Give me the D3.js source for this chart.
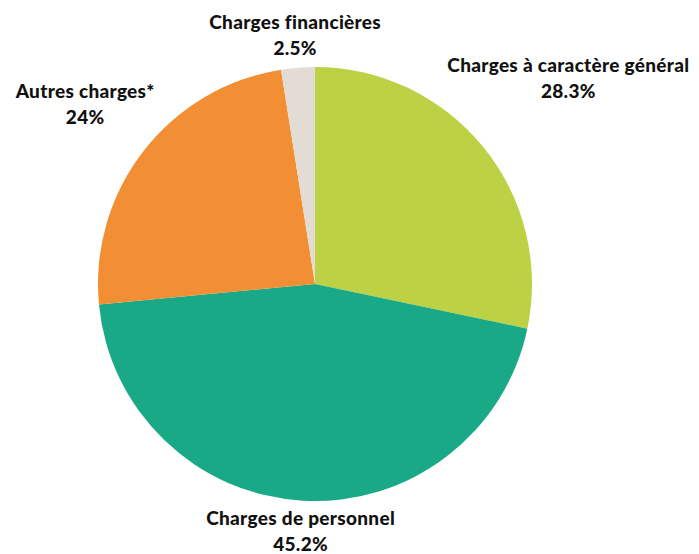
<!DOCTYPE html>
<html>
<head>
<meta charset="utf-8">
<script src="https://cdn.jsdelivr.net/npm/d3@7"></script>
<style>
  body { margin: 0; background: #fff; }
  text { font-family: "Lato", "Open Sans", sans-serif; font-weight: 900; fill: #111; letter-spacing: 0.3px; }
</style>
</head>
<body>
<div class="container"></div>
<script>
var categories = ['Charges à caractère général', 'Charges de personnel', 'Autres charges*', 'Charges financières'];
var values = [28.3, 45.2, 24, 2.5];
var valueLabels = ['28.3%', '45.2%', '24%', '2.5%'];
var colors = ['#bcd143', '#1aa987', '#f28e33', '#e2dcd4'];

const WIDTH = 699;
const HEIGHT = 554;
const CX = 315;
const CY = 284;
const RADIUS = 217;
const LINE = 26;

var translate = function(x, y){
	return "translate(" + x + "," + y + ")";
};

var slices = categories.map(function(c, i){
	return {name: c, value: values[i], label: valueLabels[i], color: colors[i]};
});

var svg = d3.select('.container').append('svg')
	.attr('width', WIDTH)
	.attr('height', HEIGHT);

var g = svg.append('g')
	.attr('transform', translate(CX, CY));

var pie = d3.pie()
	.sort(null)
	.value(function(d){ return d.value; });

var arc = d3.arc()
	.innerRadius(0)
	.outerRadius(RADIUS);

var arcs = pie(slices);

g.selectAll('path').data(arcs)
	.enter().append('path')
	.attr('d', arc)
	.attr('fill', function(d){ return d.data.color; });

// labels sit just outside the pie, pushed away along the mid angle
var nudgeX = [-20, 4, 8, 5];
var nudgeY = [-47, -6, -25, 3];
var labels = g.selectAll('g.label').data(arcs)
	.enter().append('g')
	.classed('label', true);

labels.append('text')
	.attr('text-anchor', 'middle')
	.attr('font-size', 19)
	.text(function(d){ return d.data.name; });

labels.append('text')
	.attr('text-anchor', 'middle')
	.attr('font-size', 19)
	.attr('y', LINE)
	.text(function(d){ return d.data.label; });

labels.attr('transform', function(d, i){
	var mid = (d.startAngle + d.endAngle) / 2;
	var s = Math.sin(mid), c = Math.cos(mid);
	var ax = s * (RADIUS + 14);
	var ay = -c * (RADIUS + 14);
	var w = this.getBBox().width;
	var x = ax + s * w / 2;
	var yc = ay - c * 22;
	return translate(x + nudgeX[i], yc - 6 + nudgeY[i]);
});
</script>
</body>
</html>
